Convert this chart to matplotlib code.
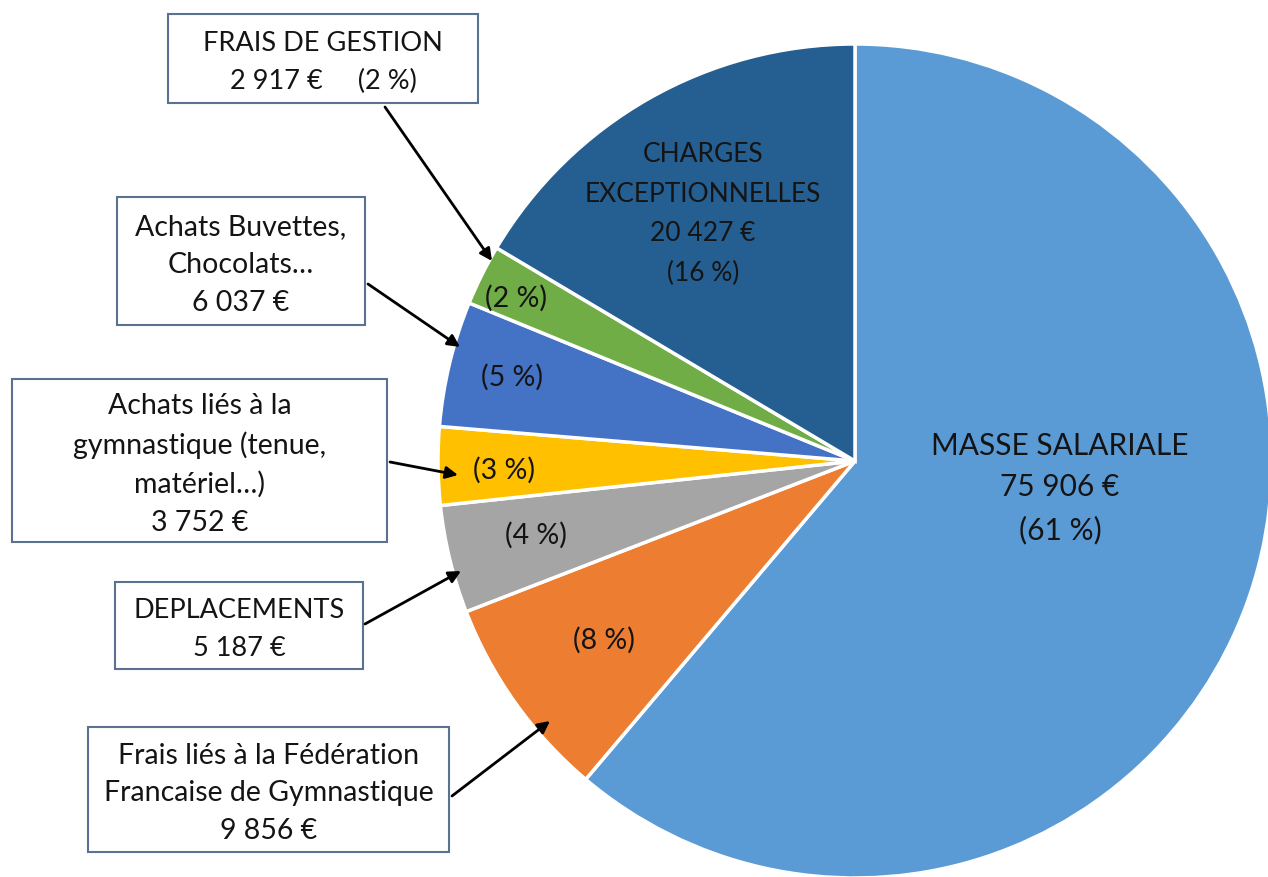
import numpy as np
import matplotlib.pyplot as plt
from matplotlib.patches import Rectangle

plt.rcParams['font.family'] = ['Lato', 'DejaVu Sans']

# data (clockwise from the top)
categories = ["MASSE SALARIALE", "Frais liés à la Fédération Francaise de Gymnastique",
              "DEPLACEMENTS", "Achats liés à la gymnastique", "Achats Buvettes, Chocolats",
              "FRAIS DE GESTION", "CHARGES EXCEPTIONNELLES"]
montants = [75906, 9856, 5187, 3752, 6037, 2917, 20427]
pourcents = ["61 %", "8 %", "4 %", "3 %", "5 %", "2 %", "16 %"]
couleurs = ["#5B9BD5", "#ED7D31", "#A5A5A5", "#FFC000", "#4472C4", "#70AD47", "#255E91"]

W, H = 1268, 878


def fy(y):
    # reference pixel row -> axis y (y up)
    return H - y


def eur(v):
    return f"{v:,}".replace(",", " ") + " €"


fig = plt.figure(figsize=(W / 100, H / 100), dpi=100)
ax = fig.add_axes([0, 0, 1, 1])

ax.pie(montants, colors=couleurs, startangle=90, counterclock=False,
       center=(855, fy(462)), radius=417,
       wedgeprops=dict(edgecolor='white', linewidth=2.5))

# pie() resets the limits, so set them afterwards
ax.set_xlim(0, W)
ax.set_ylim(0, H)
ax.set_aspect('equal')
ax.axis('off')

fs_in = 21.5
fs_box = 20.5
txt_col = '#141414'

# labels inside the pie
ax.text(1060, fy(488), f"MASSE SALARIALE\n{eur(montants[0])}\n({pourcents[0]})",
        ha='center', va='center', fontsize=fs_in, color=txt_col, linespacing=1.6)
ax.text(703, fy(214), f"CHARGES\nEXCEPTIONNELLES\n{eur(montants[6])}\n({pourcents[6]})",
        ha='center', va='center', fontsize=19, color=txt_col, linespacing=1.72)
small = [(604, 640, 1), (536, 535, 2), (504, 470, 3), (512, 377, 4), (516, 298, 5)]
for x, y, i in small:
    ax.text(x, fy(y), f"({pourcents[i]})", ha='center', va='center',
            fontsize=fs_box, color=txt_col)

# boxes with arrows: (x0, y0, x1, y1, text, font size, arrow start, arrow end)
boites = [
    (168, 15, 478, 104, f"FRAIS DE GESTION\n{eur(montants[5])}     ({pourcents[5]})",
     19.5, (385, 108), (492, 262)),
    (117, 198, 365, 326, f"Achats Buvettes,\nChocolats…\n{eur(montants[4])}",
     fs_box, (368, 285), (460, 348)),
    (12, 380, 387, 543, f"Achats liés à la\ngymnastique (tenue,\nmatériel…)\n{eur(montants[3])}",
     fs_box, (390, 463), (458, 476)),
    (115, 583, 363, 670, f"DEPLACEMENTS\n{eur(montants[2])}",
     19.5, (365, 625), (461, 572)),
    (88, 728, 449, 853, f"Frais liés à la Fédération\nFrancaise de Gymnastique\n{eur(montants[1])}",
     fs_box, (452, 797), (550, 722)),
]
for x0, y0, x1, y1, txt, fs, a0, a1 in boites:
    ax.add_patch(Rectangle((x0, fy(y1)), x1 - x0, y1 - y0, facecolor='white',
                           edgecolor='#5A7191', linewidth=1.5))
    ax.text((x0 + x1) / 2, fy((y0 + y1) / 2 + 3), txt, ha='center', va='center',
            fontsize=fs, color=txt_col, linespacing=1.55 * fs_box / fs)
    ax.annotate("", xy=(a1[0], fy(a1[1])), xytext=(a0[0], fy(a0[1])),
                arrowprops=dict(arrowstyle='-|>', color='black', lw=2,
                                mutation_scale=18, shrinkA=0, shrinkB=0))

fig.savefig("out.png", dpi=100)
